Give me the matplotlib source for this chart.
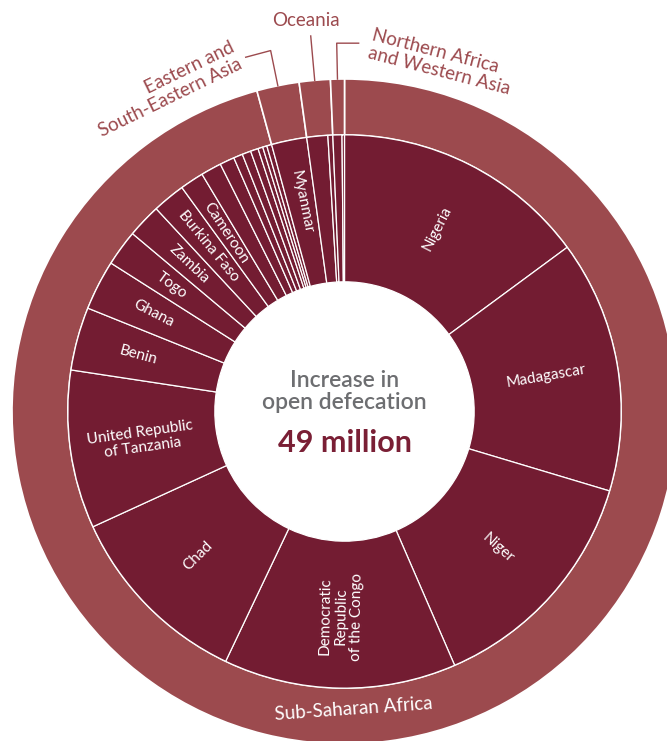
import numpy as np
import matplotlib
matplotlib.use("Agg")
import matplotlib.pyplot as plt

plt.rcParams["font.family"] = ["Lato", "DejaVu Sans"]

# Increase in open defecation (million people), clockwise from 12 o'clock
regions = ["Sub-Saharan Africa", "Eastern and\nSouth-Eastern Asia", "Oceania",
           "Northern Africa\nand Western Asia"]

ssa_countries = ["Nigeria", "Madagascar", "Niger", "Democratic\nRepublic\nof the Congo",
                 "Chad", "United Republic\nof Tanzania", "Benin", "Ghana", "Togo",
                 "Zambia", "Burkina Faso", "Cameroon", "", "", "", "", "", "", "", ""]
ssa_values = [7.30, 7.23, 6.79, 6.66, 5.44, 4.53, 1.81, 1.43, 1.03, 0.97, 0.94, 0.68,
              0.59, 0.42, 0.26, 0.25, 0.22, 0.14, 0.12, 0.14]
esea_countries = ["Myanmar"]
esea_values = [1.01]
oceania_countries = ["", ""]
oceania_values = [0.60, 0.14]
nawa_countries = ["", ""]
nawa_values = [0.26, 0.07]

inner_col = "#731c32"
outer_col = "#9c4a4e"
label_col = "#9c4a4e"

countries = ssa_countries + esea_countries + oceania_countries + nawa_countries
values = ssa_values + esea_values + oceania_values + nawa_values
region_totals = [sum(ssa_values), sum(esea_values), sum(oceania_values), sum(nawa_values)]

R_OUT, R_MID, R_IN = 1.0, 0.832, 0.39

fig = plt.figure(figsize=(6.67, 7.41), dpi=100)
ax = fig.add_axes([0, 0, 1, 1])

ax.pie(region_totals, radius=R_OUT, startangle=90, counterclock=False,
       colors=[outer_col] * len(region_totals),
       wedgeprops=dict(width=R_OUT - R_MID, edgecolor="white", linewidth=1.2))
ax.pie(values, radius=R_MID, startangle=90, counterclock=False,
       colors=[inner_col] * len(values),
       wedgeprops=dict(width=R_MID - R_IN, edgecolor="white", linewidth=0.9))

# country labels, radial
total = sum(values)
cum = np.cumsum([0] + values)
for name, a, b in zip(countries, cum[:-1], cum[1:]):
    if not name:
        continue
    mid = (a + b) / 2 / total * 360
    r = 0.617 if (b - a) > 3 else 0.644
    x, y = r * np.sin(np.radians(mid)), r * np.cos(np.radians(mid))
    rot = 90 - mid if mid < 180 else 270 - mid
    ax.text(x, y, name, rotation=rot, rotation_mode="anchor", ha="center", va="center",
            color="white", fontsize=11, linespacing=1.15)

# region labels outside with leader lines
rcum = np.cumsum([0] + region_totals)
mids = [(a + b) / 2 / total * 360 for a, b in zip(rcum[:-1], rcum[1:])]

def polar(r, deg):
    return r * np.sin(np.radians(deg)), r * np.cos(np.radians(deg))

# Eastern and South-Eastern Asia
x0, y0 = polar(R_OUT, mids[1])
x1, y1 = polar(1.108, mids[1])
ax.plot([x0, x1, x1 - 0.075], [y0, y1, y1 - 0.02], color=label_col, lw=1)
ax.text(-0.535, 0.97, regions[1], rotation=26, rotation_mode="anchor", ha="center",
        va="center", multialignment="right", color=label_col, fontsize=13.5, linespacing=1.1)

# Oceania
x0, y0 = polar(R_OUT, mids[2])
x1, y1 = polar(1.134, mids[2])
ax.plot([x0, x1], [y0, y1], color=label_col, lw=1)
ax.text(-0.115, 1.177, regions[2], ha="center", va="center", color=label_col, fontsize=13.5)

# Northern Africa and Western Asia
x0, y0 = polar(R_OUT, mids[3])
x1, y1 = polar(1.108, mids[3])
ax.plot([x0, x1, x1 + 0.066], [y0, y1, y1], color=label_col, lw=1)
ax.text(0.29, 1.05, regions[3], rotation=-14.5, rotation_mode="anchor", ha="center",
        va="center", multialignment="left", color=label_col, fontsize=13.5, linespacing=1.1)

# Sub-Saharan Africa inside outer ring
ax.text(0.026, -0.895, regions[0], rotation=4, ha="center", va="center",
        color="white", fontsize=13.5)

# centre text
ax.text(0, 0.06, "Increase in\nopen defecation", ha="center", va="center",
        color="#6d6e71", fontsize=16.5, fontweight="semibold", linespacing=1.05)
ax.text(0, -0.095, "49 million", ha="center", va="center",
        color="#7a1f35", fontsize=22, fontweight="bold")

ax.set_xlim(-344.5 / 332.5, (667 - 344.5) / 332.5)
ax.set_ylim(-(741 - 411.5) / 332.5, 411.5 / 332.5)
ax.set_aspect("auto")
ax.axis("off")

fig.savefig("out.png", dpi=100)
